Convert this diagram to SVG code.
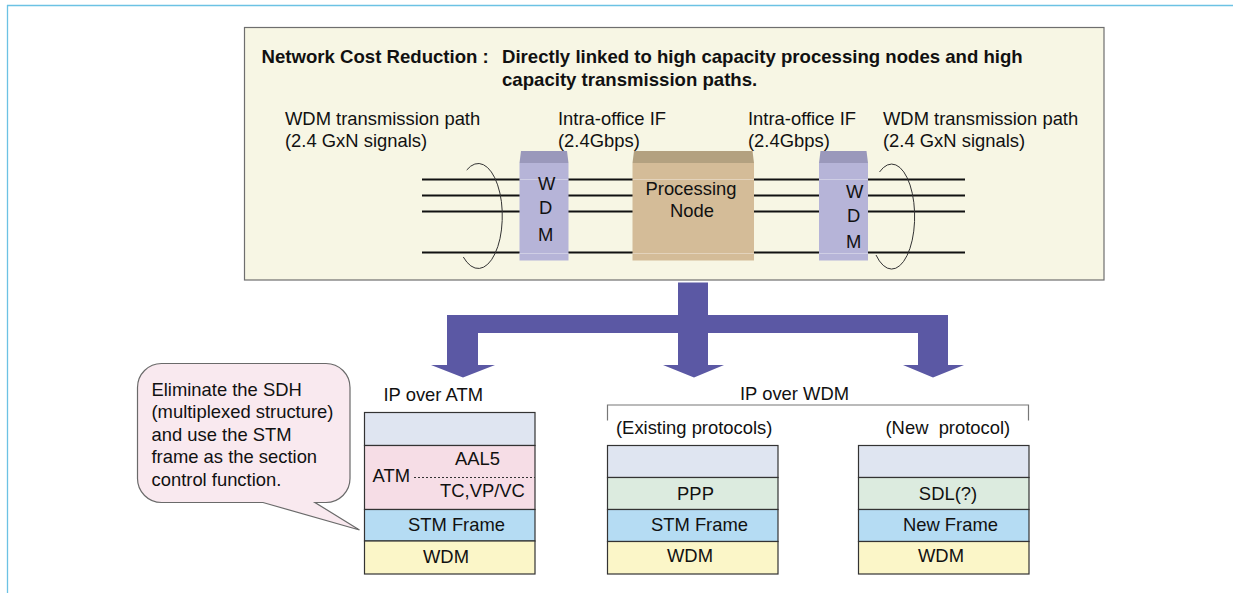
<svg xmlns="http://www.w3.org/2000/svg" width="1233" height="593" viewBox="0 0 1233 593">
  <style>
    text { font-family: "Liberation Sans", Arial, sans-serif; font-size: 18.4px; fill: #111; }
    .b { font-weight: bold; font-size: 18.6px; }
    .mid { text-anchor: middle; }
    .sig { stroke: #111; stroke-width: 2.2; fill: none; }
    .brace { stroke: #333; stroke-width: 1; fill: none; }
    .hl { stroke: #ffffff; stroke-opacity: 0.35; stroke-width: 1; }
    .layer { stroke: #333; stroke-width: 1.2; }
    .l-top { fill: #dfe5f1; }
    .l-atm { fill: #f6dde6; }
    .l-ppp { fill: #dcebdf; }
    .l-frm { fill: #b5dcf3; }
    .l-wdm { fill: #fbf6c8; }
    .wdm-front { fill: #b6b4d8; }
    .wdm-top { fill: #9a98bb; }
  </style>

  <!-- page frame -->
  <g id="frame" stroke="#6cc2e4" stroke-width="1.3" fill="none">
    <line x1="7" y1="5.5" x2="1233" y2="5.5"/>
    <line x1="7.5" y1="5" x2="7.5" y2="593"/>
  </g>

  <!-- upper panel: network cost reduction -->
  <g id="panel">
    <rect x="244.5" y="27.5" width="859.5" height="252.5" fill="#f7f6e4" stroke="#6e6e6e" stroke-width="1.2"/>
    <text class="b" x="261.5" y="63">Network Cost Reduction :</text>
    <text class="b" x="502" y="63">Directly linked to high capacity processing nodes and high</text>
    <text class="b" x="502" y="86">capacity transmission paths.</text>
    <text x="285" y="125">WDM transmission path</text>
    <text x="285" y="147">(2.4 GxN signals)</text>
    <text x="558" y="125">Intra-office IF</text>
    <text x="558" y="147">(2.4Gbps)</text>
    <text x="748" y="125">Intra-office IF</text>
    <text x="748" y="147">(2.4Gbps)</text>
    <text x="883" y="125">WDM transmission path</text>
    <text x="883" y="147">(2.4 GxN signals)</text>
  </g>

  <!-- signal lines and bundling braces -->
  <g id="signals">
    <line class="sig" x1="422" y1="179.5" x2="965" y2="179.5"/>
    <line class="sig" x1="422" y1="195.5" x2="965" y2="195.5"/>
    <line class="sig" x1="422" y1="211.5" x2="965" y2="211.5"/>
    <line class="sig" x1="422" y1="252.5" x2="965" y2="252.5"/>
    <path class="brace" d="M 466.7 170 A 24 52.5 0 1 1 463.3 257"/>
    <path class="brace" d="M 879.5 172 A 23 52.5 0 1 1 876 255"/>
  </g>

  <!-- left WDM -->
  <g id="wdm-left">
    <polygon class="wdm-top" points="521,151 567,151 568.5,163 519.5,163"/>
    <rect class="wdm-front" x="519.5" y="163" width="49" height="97.5"/>
    <line class="hl" x1="519.5" y1="179.5" x2="568.5" y2="179.5"/>
    <line class="hl" x1="519.5" y1="253.5" x2="568.5" y2="253.5"/>
    <text x="538" y="190">W</text>
    <text x="539" y="214">D</text>
    <text x="538" y="240.5">M</text>
  </g>

  <!-- processing node -->
  <g id="processing-node">
    <polygon points="634,151 752.5,151 754,163 632.5,163" fill="#b3a180"/>
    <rect x="632.5" y="163" width="121.5" height="97.5" fill="#d4bc98"/>
    <line class="hl" x1="632.5" y1="179.5" x2="754" y2="179.5"/>
    <line class="hl" x1="632.5" y1="253.5" x2="754" y2="253.5"/>
    <text class="mid" x="691" y="195">Processing</text>
    <text class="mid" x="692" y="217">Node</text>
  </g>

  <!-- right WDM -->
  <g id="wdm-right">
    <polygon class="wdm-top" points="820.5,151 866.5,151 868,163 819,163"/>
    <rect class="wdm-front" x="819" y="163" width="49" height="97.5"/>
    <line class="hl" x1="819" y1="179.5" x2="868" y2="179.5"/>
    <line class="hl" x1="819" y1="253.5" x2="868" y2="253.5"/>
    <text x="846" y="197.5">W</text>
    <text x="847" y="221.5">D</text>
    <text x="846" y="248">M</text>
  </g>

  <!-- branching arrow -->
  <g id="connectors">
    <path fill="#5b58a4" d="M 678 282.5 H 708 V 315 H 948 V 365 H 964 L 933 377.5 L 903 365 H 918 V 333 H 708 V 365 H 724 L 694 377.5 L 663 365 H 678 V 333 H 478 V 365 H 495 L 463 377.5 L 431 365 H 447 V 315 H 678 Z"/>
  </g>

  <!-- callout -->
  <g id="callout">
    <path d="M 161.5 363.5 H 326 A 24 24 0 0 1 350 387.5 V 478.5 A 24 24 0 0 1 326 502.5 H 315 L 359.5 530 L 263 502.5 H 161.5 A 24 24 0 0 1 137.5 478.5 V 387.5 A 24 24 0 0 1 161.5 363.5 Z" fill="#f9e9ef" stroke="#6a6a6a" stroke-width="1.2"/>
    <text x="151.5" y="395.5">Eliminate the SDH</text>
    <text x="151.5" y="418">(multiplexed structure)</text>
    <text x="151.5" y="440.5">and use the STM</text>
    <text x="151.5" y="463">frame as the section</text>
    <text x="151.5" y="485.5">control function.</text>
  </g>

  <!-- IP over ATM stack -->
  <g id="ip-over-atm">
    <text x="383.5" y="400.5">IP over ATM</text>
    <rect class="layer l-top" x="364.5" y="412.5" width="170.5" height="33"/>
    <rect class="layer l-atm" x="364.5" y="445.5" width="170.5" height="64"/>
    <rect class="layer l-frm" x="364.5" y="509.5" width="170.5" height="31.5"/>
    <rect class="layer l-wdm" x="364.5" y="541" width="170.5" height="33"/>
    <line x1="414" y1="477.5" x2="535" y2="477.5" stroke="#333" stroke-width="1" stroke-dasharray="2 2"/>
    <text x="372.5" y="482">ATM</text>
    <text class="mid" x="477.5" y="465">AAL5</text>
    <text class="mid" x="482.5" y="497">TC,VP/VC</text>
    <text class="mid" x="456.5" y="530.5">STM Frame</text>
    <text class="mid" x="446" y="562.5">WDM</text>
  </g>

  <!-- IP over WDM heading and bracket -->
  <g id="ip-over-wdm">
    <text class="mid" x="794.5" y="399.5">IP over WDM</text>
    <polyline points="607.5,420.5 607.5,405 1028.5,405 1028.5,420.5" fill="none" stroke="#777" stroke-width="1.2"/>
    <text x="616" y="433.5">(Existing protocols)</text>
    <text x="885.5" y="433.5" xml:space="preserve">(New  protocol)</text>
  </g>

  <!-- existing protocols stack -->
  <g id="stack-existing">
    <rect class="layer l-top" x="607.5" y="445.5" width="170.5" height="32"/>
    <rect class="layer l-ppp" x="607.5" y="477.5" width="170.5" height="32"/>
    <rect class="layer l-frm" x="607.5" y="509.5" width="170.5" height="32"/>
    <rect class="layer l-wdm" x="607.5" y="541.5" width="170.5" height="32.5"/>
    <text class="mid" x="695.5" y="499.5">PPP</text>
    <text class="mid" x="699.5" y="531">STM Frame</text>
    <text class="mid" x="690" y="562">WDM</text>
  </g>

  <!-- new protocol stack -->
  <g id="stack-new">
    <rect class="layer l-top" x="858.5" y="445.5" width="170.5" height="32"/>
    <rect class="layer l-ppp" x="858.5" y="477.5" width="170.5" height="32"/>
    <rect class="layer l-frm" x="858.5" y="509.5" width="170.5" height="32"/>
    <rect class="layer l-wdm" x="858.5" y="541.5" width="170.5" height="32.5"/>
    <text class="mid" x="948" y="499.5">SDL(?)</text>
    <text class="mid" x="950.5" y="531">New Frame</text>
    <text class="mid" x="941" y="562">WDM</text>
  </g>
</svg>
